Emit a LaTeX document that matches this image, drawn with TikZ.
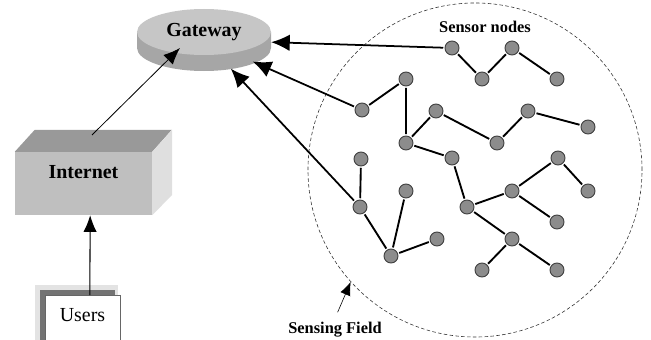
\documentclass[tikz,border=0pt]{standalone}
\usepackage{fontspec}
\setmainfont{Liberation Serif}
\usetikzlibrary{shapes.geometric,arrows.meta}

\begin{document}
\begin{tikzpicture}[x=0.03cm, y=-0.03cm]
	\tikzset{n/.style={draw=black!75, fill=gray!90, circle, line width=0.8pt, minimum size=0.42cm, inner sep=0pt, outer sep=1.5pt},
	e/.style={line width=1.6pt},
	f/.style={-{Latex[length=5.6mm, width=5mm]}, line width=1.5pt},
	t/.style={-{Latex[length=5mm, width=4mm]}, line width=0.7pt},
	big/.style={font=\fontsize{17}{20}\selectfont\bfseries},
	lbl/.style={font=\fontsize{14}{16}\selectfont\bfseries}};

	\useasboundingbox (0,0) rectangle (651,340);

	% sensing field
	\node[draw=black!80, dash pattern=on 3pt off 2pt, circle, minimum size=10.02cm, line width=0.5pt] (fld) at (475,170) {};
	\node[lbl] (snl) at (485,27) {Sensor nodes};
	\node[lbl] (sf) at (335,330) {Sensing Field};

	% gateway
	\fill[gray!70] (137,32) -- (137,48) arc[start angle=180, end angle=360, x radius=2.01cm, y radius=0.69cm] -- (271,32) -- cycle;
	\node[ellipse, fill=gray!45, minimum width=4.02cm, minimum height=1.38cm, inner sep=0pt, big] (gwtop) at (204,32) {Gateway};
	\node[ellipse, minimum width=4.02cm, minimum height=1.86cm] (gw) at (204,40) {};

	% internet
	\node[fill=gray!50, inner sep=0pt, text width=4.11cm, align=center, text height=0.78cm, text depth=1.11cm, big] (net) at (83.5,183.5) {Internet};
	\fill[gray!80] (net.north west) -- ++(20,-22) -- ++(137,0) -- (net.north east) -- cycle;
	\fill[gray!25] (net.north east) -- ++(20,-22) -- ++(0,65) -- (net.south east) -- cycle;
	\coordinate (nettop) at (92,135);

	% users
	\fill[gray!22] (35,285) rectangle (118,345);
	\fill[black!55] (40,290) rectangle (115,345);
	\node[draw=black!60, fill=white, line width=0.6pt, inner sep=0pt, text width=2.25cm, align=center, text height=0.78cm, text depth=0.75cm, anchor=north, font=\fontsize{17}{20}\selectfont] (usr) at (82.5,295) {Users};

	% sensors
	\node[n] (s1) at (452,48) {};
	\node[n] (s2) at (482,79) {};
	\node[n] (s3) at (512,48) {};
	\node[n] (s4) at (557,79) {};
	\node[n] (s5) at (406,79) {};
	\node[n] (s6) at (362,110) {};
	\node[n] (s7) at (406,143) {};
	\node[n] (s8) at (436,111) {};
	\node[n] (s9) at (497,143) {};
	\node[n] (s10) at (528,111) {};
	\node[n] (s11) at (588,127) {};
	\node[n] (s12) at (361,159) {};
	\node[n] (s13) at (452,158) {};
	\node[n] (s14) at (558,158) {};
	\node[n] (s15) at (406,191) {};
	\node[n] (s16) at (512,191) {};
	\node[n] (s17) at (588,191) {};
	\node[n] (s18) at (360,207) {};
	\node[n] (s19) at (467,207) {};
	\node[n] (s20) at (557,222) {};
	\node[n] (s21) at (391,256) {};
	\node[n] (s22) at (437,239) {};
	\node[n] (s23) at (512,239) {};
	\node[n] (s24) at (482,270) {};
	\node[n] (s25) at (557,270) {};

	\draw[e] (s1) -- (s2) -- (s3) -- (s4);
	\draw[e] (s6) -- (s5) -- (s7) -- (s8) -- (s9) -- (s10) -- (s11);
	\draw[e] (s7) -- (s13) -- (s19) -- (s16) -- (s14) -- (s17);
	\draw[e] (s16) -- (s20);
	\draw[e] (s19) -- (s23) -- (s24);
	\draw[e] (s23) -- (s25);
	\draw[e] (s12) -- (s18) -- (s21) -- (s15);
	\draw[e] (s21) -- (s22);

	% links
	\draw[f] (s1) -- (gw);
	\draw[f] (s6) -- (gw);
	\draw[f] (s18) -- (gw);
	\draw[t] (nettop) -- ([shift={(-24,8)}]gw.center);
	\draw[t, line width=0.9pt] ([xshift=0.22cm]usr.north) -- ([xshift=0.2cm]net.south);
	\draw[-{Latex[length=4mm, width=3.2mm]}, line width=0.5pt, shorten <=2mm] (sf.north) -- (fld.222);
\end{tikzpicture}
\end{document}
